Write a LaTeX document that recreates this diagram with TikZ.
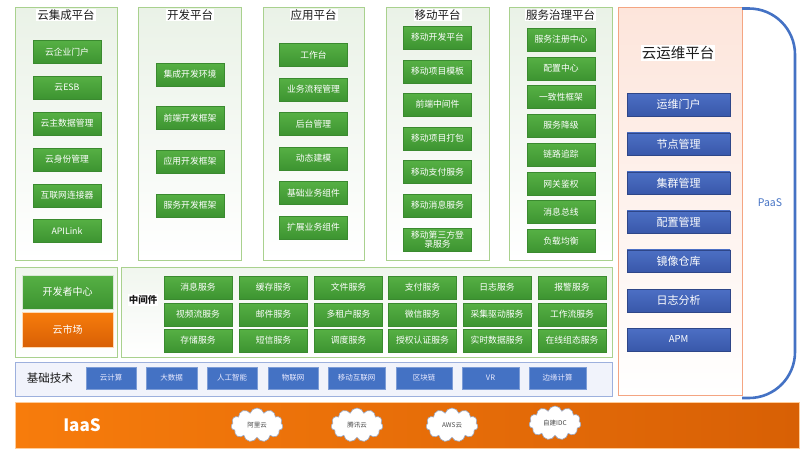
\documentclass[tikz,border=0pt]{standalone}
\usepackage{fontspec}
\setmainfont{Noto Sans CJK SC}
\usetikzlibrary{shapes.symbols}
\definecolor{colborder}{HTML}{A9D18E}
\definecolor{coltop}{HTML}{EAF2E7}
\definecolor{gtop}{HTML}{56B044}
\definecolor{gbot}{HTML}{3D9431}
\definecolor{gline}{HTML}{3A8A2F}
\definecolor{btop}{HTML}{4C6FC4}
\definecolor{bbot}{HTML}{3958AA}
\definecolor{sbtn}{HTML}{4472C4}
\definecolor{orborder}{HTML}{F4A582}
\definecolor{ortop}{HTML}{FDE5DB}
\definecolor{iaasl}{HTML}{F77C0C}
\definecolor{iaasr}{HTML}{D86005}
\definecolor{basefill}{HTML}{F1F3FB}
\definecolor{baseline}{HTML}{9DB0DD}
\definecolor{paasblue}{HTML}{4472C4}
\definecolor{cloudline}{HTML}{9AA8C4}
\definecolor{txt}{HTML}{1A1A1A}
\tikzset{
  column/.style={draw=colborder, line width=0.9pt, top color=coltop, bottom color=white, minimum width=#1, minimum height=253, inner sep=0},
  coltitle/.style={fill=white, inner sep=1pt, text=txt, font=\fontsize{11.5}{13}\selectfont},
  gbtn/.style={draw=gline, line width=0.3pt, top color=gtop, bottom color=gbot, text=white, minimum width=68, minimum height=23, inner sep=0, font=\fontsize{8.8}{10}\selectfont, align=center},
  bbtn/.style={draw=bbot!80!black, line width=0.3pt, top color=btop, bottom color=bbot, text=white, minimum width=103, minimum height=22.5, inner sep=0, font=\fontsize{11}{13}\selectfont},
  sbtn/.style={fill=sbtn, draw=sbtn!70!white, line width=0.4pt, text=white!92!blue, minimum width=#1, minimum height=22, inner sep=0, font=\fontsize{7.5}{9}\selectfont},
  cloudn/.style={cloud, cloud puffs=11, aspect=1.6, draw=cloudline, line width=0.6pt, fill=white, minimum width=52, minimum height=34, inner sep=0, text=txt!80, font=\fontsize{6.5}{8}\selectfont},
}
\begin{document}
\begin{tikzpicture}[x=1pt,y=-1pt]
\useasboundingbox (0,0) rectangle (806,456);
% ---------------- top columns
\node[column=102] (c1) at (66,133.5) {};
\node[column=103] (c2) at (189.5,133.5) {};
\node[column=101] (c3) at (313.5,133.5) {};
\node[column=103] (c4) at (437.5,133.5) {};
\node[column=103] (c5) at (560.5,133.5) {};
\node[coltitle] (t1) at (66,15) {云集成平台};
\node[coltitle] (t2) at (190,15) {开发平台};
\node[coltitle] (t3) at (313.5,15) {应用平台};
\node[coltitle] (t4) at (437.5,15) {移动平台};
\node[coltitle] (t5) at (560.5,15) {服务治理平台};
% col1
\node[gbtn] (a1) at (67,52) {云企业门户};
\node[gbtn] (a2) at (67,87.5) {云ESB};
\node[gbtn] (a3) at (67,123.5) {云主数据管理};
\node[gbtn] (a4) at (67,159.5) {云身份管理};
\node[gbtn] (a5) at (67,195.5) {互联网连接器};
\node[gbtn] (a6) at (67,230.5) {APILink};
% col2
\node[gbtn] (b1) at (190,74.5) {集成开发环境};
\node[gbtn] (b2) at (190,118) {前端开发框架};
\node[gbtn] (b3) at (190,161.5) {应用开发框架};
\node[gbtn] (b4) at (190,205.5) {服务开发框架};
% col3
\node[gbtn] (d1) at (313.5,55) {工作台};
\node[gbtn] (d2) at (313.5,89.5) {业务流程管理};
\node[gbtn] (d3) at (313.5,124) {后台管理};
\node[gbtn] (d4) at (313.5,158.5) {动态建模};
\node[gbtn] (d5) at (313.5,193) {基础业务组件};
\node[gbtn] (d6) at (313.5,227.5) {扩展业务组件};
% col4
\node[gbtn] (e1) at (437.5,37.5) {移动开发平台};
\node[gbtn] (e2) at (437.5,71.5) {移动项目模板};
\node[gbtn] (e3) at (437.5,104.5) {前端中间件};
\node[gbtn] (e4) at (437.5,138.5) {移动项目打包};
\node[gbtn] (e5) at (437.5,172) {移动支付服务};
\node[gbtn] (e6) at (437.5,205.5) {移动消息服务};
\node[gbtn, font=\fontsize{8.8}{9.6}\selectfont] (e7) at (437.5,239.5) {移动第三方登\\录服务};
% col5
\node[gbtn] (f1) at (561,39.5) {服务注册中心};
\node[gbtn] (f2) at (561,68.5) {配置中心};
\node[gbtn] (f3) at (561,97) {一致性框架};
\node[gbtn] (f4) at (561,125.5) {服务降级};
\node[gbtn] (f5) at (561,154.5) {链路追踪};
\node[gbtn] (f6) at (561,184) {网关鉴权};
\node[gbtn] (f7) at (561,212) {消息总线};
\node[gbtn] (f8) at (561,241) {负载均衡};
% ---------------- ops panel
\node[draw=orborder, line width=0.9pt, top color=ortop, bottom color=white, minimum width=124, minimum height=388, inner sep=0] (ops) at (680,201) {};
\node[fill=white, inner sep=1pt, text=txt, font=\fontsize{14.5}{16}\selectfont] (opst) at (678,53) {云运维平台};
\node[bbtn] (o1) at (678.5,104.5) {运维门户};
\node[bbtn] (o2) at (678.5,144) {节点管理};
\node[bbtn] (o3) at (678.5,183) {集群管理};
\node[bbtn] (o4) at (678.5,222) {配置管理};
\node[bbtn] (o5) at (678.5,261) {镜像仓库};
\node[bbtn] (o6) at (678.5,300.5) {日志分析};
\node[bbtn, font=\fontsize{9.5}{11}\selectfont] (o7) at (678.5,339.5) {APM};
% PaaS bracket
\coordinate (pa) at (742,8.5);
\coordinate (pb) at (795,8.5);
\coordinate (pc) at (795,398);
\coordinate (pd) at (742,398);
\draw[paasblue, line width=2.6pt, rounded corners=46] (pa) -- (pb) -- (pc) -- (pd);
\node[text=paasblue, font=\fontsize{10.5}{12}\selectfont] (paas) at (770,203) {PaaS};
% ---------------- middle row
\node[draw=colborder, line width=0.9pt, top color=coltop!70!white, bottom color=white, minimum width=102, minimum height=90, inner sep=0] (dev) at (66,312) {};
\node[draw=white!80!gline, line width=0.6pt, top color=gtop, bottom color=gbot, text=white, minimum width=91, minimum height=34, inner sep=0, font=\fontsize{10}{12}\selectfont] (devc) at (67.5,292) {开发者中心};
\node[draw=white!70!orange, line width=0.6pt, top color=iaasl, bottom color=iaasr, text=white, minimum width=91, minimum height=35, inner sep=0, font=\fontsize{10}{12}\selectfont] (mkt) at (67.5,329.5) {云市场};
\node[draw=colborder, line width=0.9pt, top color=coltop!70!white, bottom color=white, minimum width=491, minimum height=90, inner sep=0] (mw) at (366.5,312) {};
\node[fill=white, inner sep=1pt, text=txt, font=\fontsize{9.5}{11}\selectfont\bfseries] (mwt) at (143,300) {中间件};
% grid
\node[gbtn] (m11) at (198,287.5) {消息服务};
\node[gbtn] (m12) at (273.5,287.5) {缓存服务};
\node[gbtn] (m13) at (348.5,287.5) {文件服务};
\node[gbtn] (m14) at (422.5,287.5) {支付服务};
\node[gbtn] (m15) at (497,287.5) {日志服务};
\node[gbtn] (m16) at (572,287.5) {报警服务};
\node[gbtn] (m21) at (198,314.5) {视频流服务};
\node[gbtn] (m22) at (273.5,314.5) {邮件服务};
\node[gbtn] (m23) at (348.5,314.5) {多租户服务};
\node[gbtn] (m24) at (422.5,314.5) {微信服务};
\node[gbtn] (m25) at (497,314.5) {采集驱动服务};
\node[gbtn] (m26) at (572,314.5) {工作流服务};
\node[gbtn] (m31) at (198,340.5) {存储服务};
\node[gbtn] (m32) at (273.5,340.5) {短信服务};
\node[gbtn] (m33) at (348.5,340.5) {调度服务};
\node[gbtn] (m34) at (422.5,340.5) {授权认证服务};
\node[gbtn] (m35) at (497,340.5) {实时数据服务};
\node[gbtn] (m36) at (572,340.5) {在线组态服务};
% ---------------- base technology
\node[draw=baseline, line width=1pt, fill=basefill, minimum width=597, minimum height=34, inner sep=0] (base) at (313.5,379) {};
\node[text=txt, font=\fontsize{11.5}{13}\selectfont] (baset) at (50,378) {基础技术};
\node[sbtn=50] (s1) at (111,378) {云计算};
\node[sbtn=51] (s2) at (171.5,378) {大数据};
\node[sbtn=50] (s3) at (232,378) {人工智能};
\node[sbtn=50] (s4) at (293,378) {物联网};
\node[sbtn=57] (s5) at (356.5,378) {移动互联网};
\node[sbtn=56] (s6) at (424,378) {区块链};
\node[sbtn=57] (s7) at (490.5,378) {VR};
\node[sbtn=57] (s8) at (557.5,378) {边缘计算};
% ---------------- IaaS
\node[draw=white!60!orange, line width=0.5pt, left color=iaasl, right color=iaasr, minimum width=784, minimum height=46, inner sep=0] (iaas) at (407,425) {};
\node[text=white, font=\fontsize{17}{19}\selectfont\bfseries] (iaast) at (82,425) {IaaS};
\node[cloudn] (k1) at (257,425) {阿里云};
\node[cloudn] (k2) at (357,425) {腾讯云};
\node[cloudn] (k3) at (452,425) {AWS云};
\node[cloudn] (k4) at (555,423) {自建IDC};
\end{tikzpicture}
\end{document}
